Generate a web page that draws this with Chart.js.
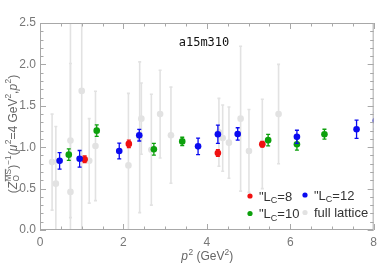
<!DOCTYPE html>
<html>
<head>
<meta charset="utf-8">
<script src="https://cdn.jsdelivr.net/npm/chart.js@4"></script>
<style>
  html, body { margin: 0; padding: 0; background: #fff; }
  #wrap { width: 382px; height: 271px; position: relative; }
</style>
</head>
<body>
<div id="wrap"><canvas id="chart" width="382" height="271"></canvas></div>
<script>
// ================= DATA =================
const xTicks = [0, 2, 4, 6, 8];
const yTicks = [0.0, 0.5, 1.0, 1.5, 2.0, 2.5];
const plotTitle = 'a15m310';

// L_C = 8 (red)
const lc8X = [1.07, 2.13, 4.265, 5.33];
const lc8Y = [0.855, 1.04, 0.93, 1.035];
const lc8Err = [0.04, 0.045, 0.04, 0.035];

// L_C = 10 (green)
const lc10X = [0.69, 1.36, 2.73, 3.41, 5.47, 6.16, 6.82];
const lc10Y = [0.91, 1.20, 0.975, 1.07, 1.085, 1.035, 1.157];
const lc10Err = [0.07, 0.07, 0.07, 0.05, 0.07, 0.07, 0.06];

// L_C = 12 (blue)
const lc12X = [0.47, 0.95, 1.90, 2.38, 3.79, 4.265, 4.74, 6.16, 7.59, 8.05];
const lc12Y = [0.835, 0.86, 0.955, 1.145, 1.01, 1.157, 1.16, 1.125, 1.217, 1.32];
const lc12Err = [0.1, 0.1, 0.095, 0.07, 0.1, 0.11, 0.075, 0.08, 0.11, 0.1];

// full lattice (light gray)
const fullX = [0.29, 0.38, 0.73, 0.73, 1.00, 1.18, 1.33, 2.12, 2.39, 2.43, 2.67, 2.88, 3.14, 4.29, 4.38, 4.53, 4.81, 5.01, 5.33, 5.72];
const fullY = [0.82, 0.56, 1.08, 0.46, 1.68, 0.835, 1.015, 0.78, 1.12, 1.345, 0.97, 1.40, 1.145, 1.18, 1.11, 1.055, 1.345, 0.955, 1.04, 1.40];
const fullErr = [0.58, 0.69, 0.93, 2.2, 1.9, 0.51, 0.66, 0.87, 0.91, 0.43, 0.67, 0.53, 0.58, 0.41, 0.40, 0.43, 0.875, 0.5, 0.54, 0.60];

// legend labels: [prefix, subscript, suffix]
const legendLabels = [
    ['"L', 'C', '=8'],
    ['"L', 'C', '=12'],
    ['"L', 'C', '=10'],
    ['full lattice', '', '']
];

const RED = '#f01010';
const GREEN = '#0ca00c';
const BLUE = '#0a0af0';
const GRAY = '#e2e2e2';
const FONT = '"Liberation Sans", Arial, sans-serif';

function toPoints(xs, ys) {
    return xs.map((x, i) => ({ x: x, y: ys[i] }));
}

function series(label, xs, ys, errs, color, order, capW, lw) {
    return {
        label: label,
        data: toPoints(xs, ys),
        errors: errs,
        capW: capW,
        errWidth: lw,
        backgroundColor: color,
        borderColor: color,
        pointRadius: 3.3,
        pointBorderWidth: 0,
        pointHoverRadius: 3.3,
        order: order
    };
}

// ================= RICH TEXT (sub / superscripts) =================
function setFont(ctx, size, italic) {
    ctx.font = (italic ? 'italic ' : '') + size + 'px ' + FONT;
}

function partWidth(ctx, p, size) {
    const small = size * 0.7;
    let w = 0, ws = 0;
    if (p.t) { setFont(ctx, size, p.it); w = ctx.measureText(p.t).width; }
    if (p.sup) { setFont(ctx, small, false); ws = ctx.measureText(p.sup).width; }
    if (p.sub) { setFont(ctx, small, false); ws = Math.max(ws, ctx.measureText(p.sub).width); }
    return w + ws + (p.sup || p.sub ? 0.5 : 0);
}

function drawRich(ctx, parts, cx, baseline, size) {
    const small = size * 0.7;
    let total = 0;
    parts.forEach(p => { total += partWidth(ctx, p, size); });
    let x = cx - total / 2;
    ctx.textAlign = 'left';
    ctx.textBaseline = 'alphabetic';
    parts.forEach(p => {
        if (p.t) {
            setFont(ctx, size, p.it);
            ctx.fillText(p.t, x, baseline);
            x += ctx.measureText(p.t).width + (p.it ? 0.5 : 0);
        }
        let ws = 0;
        setFont(ctx, small, false);
        if (p.sup) {
            const yy = baseline - size * 0.42;
            ctx.fillText(p.sup, x, yy);
            const w = ctx.measureText(p.sup).width;
            if (p.over) {
                ctx.fillRect(x, yy - small * 0.78, w, 0.8);
            }
            ws = w;
        }
        if (p.sub) {
            ctx.fillText(p.sub, x, baseline + size * 0.22);
            ws = Math.max(ws, ctx.measureText(p.sub).width);
        }
        x += ws;
    });
}

// ================= PLUGIN: ERROR BARS =================
const errorBars = {
    id: 'errorBars',
    beforeDatasetDraw(chart, args) {
        const ds = chart.data.datasets[args.index];
        if (!ds.errors) return;
        const ctx = chart.ctx;
        const area = chart.chartArea;
        const xs = chart.scales.x;
        const ys = chart.scales.y;

        ctx.save();
        ctx.beginPath();
        ctx.rect(area.left, area.top, area.right - area.left, area.bottom - area.top);
        ctx.clip();
        ctx.strokeStyle = ds.borderColor;
        ctx.lineWidth = ds.errWidth;

        ds.data.forEach((pt, i) => {
            const px = xs.getPixelForValue(pt.x);
            const top = ys.getPixelForValue(pt.y + ds.errors[i]);
            const bot = ys.getPixelForValue(pt.y - ds.errors[i]);
            ctx.beginPath();
            ctx.moveTo(px, top);
            ctx.lineTo(px, bot);
            ctx.moveTo(px - ds.capW, top);
            ctx.lineTo(px + ds.capW, top);
            ctx.moveTo(px - ds.capW, bot);
            ctx.lineTo(px + ds.capW, bot);
            ctx.stroke();
        });
        ctx.restore();
    }
};

// ================= PLUGIN: FRAME, TITLES, LEGEND =================
const frameAndText = {
    id: 'frameAndText',
    afterDraw(chart) {
        const ctx = chart.ctx;
        const a = chart.chartArea;
        const xs = chart.scales.x;
        const ys = chart.scales.y;

        ctx.save();
        ctx.strokeStyle = '#a8a8a8';
        ctx.lineWidth = 1;
        ctx.strokeRect(a.left + 0.5, a.top + 0.5, a.right - a.left - 1, a.bottom - a.top - 1);

        // inward frame ticks on all four sides
        ctx.beginPath();
        for (let k = 0; k <= 16; k++) {
            const v = k * 0.5;
            const px = Math.round(xs.getPixelForValue(v)) + 0.5;
            const len = (k % 4 === 0) ? 6 : 3.5;
            ctx.moveTo(px, a.bottom); ctx.lineTo(px, a.bottom - len);
            ctx.moveTo(px, a.top); ctx.lineTo(px, a.top + len);
        }
        for (let k = 0; k <= 25; k++) {
            const v = k * 0.1;
            const py = Math.round(ys.getPixelForValue(v)) + 0.5;
            const len = (k % 5 === 0) ? 6 : 3.5;
            ctx.moveTo(a.left, py); ctx.lineTo(a.left + len, py);
            ctx.moveTo(a.right, py); ctx.lineTo(a.right - len, py);
        }
        ctx.stroke();

        // plot label
        ctx.fillStyle = '#111';
        ctx.font = '12px "DejaVu Sans Mono", monospace';
        ctx.textAlign = 'center';
        ctx.textBaseline = 'middle';
        ctx.fillText(plotTitle, 204, 43);

        // axis titles
        ctx.fillStyle = '#666';
        drawRich(ctx, [
            { t: 'p', it: true, sup: '2' },
            { t: ' (GeV', sup: '2' },
            { t: ')' }
        ], 207.5, 260, 12);

        ctx.save();
        ctx.translate(16.5, 133.5);
        ctx.rotate(-Math.PI / 2);
        drawRich(ctx, [
            { t: '(' },
            { t: 'Z', it: true, sub: 'O', sup: 'MS', over: true },
            { t: ')', sup: '\u22121' },
            { t: '(' },
            { t: '\u03bc', it: true, sup: '2' },
            { t: '=4 GeV', sup: '2' },
            { t: ',' },
            { t: 'p', it: true, sup: '2' },
            { t: ')' }
        ], 0, 0, 12);
        ctx.restore();

        // legend
        const colors = [RED, BLUE, GREEN, GRAY];
        const spots = [[250, 196], [305, 195], [250, 213.5], [305, 212.5]];
        legendLabels.forEach((lab, i) => {
            const [dx, dy] = spots[i];
            ctx.fillStyle = colors[i];
            ctx.beginPath();
            ctx.arc(dx, dy, 2.6, 0, Math.PI * 2);
            ctx.fill();

            ctx.fillStyle = '#333';
            ctx.textAlign = 'left';
            ctx.textBaseline = 'alphabetic';
            let tx = dx + 9;
            const base = dy + 4.5;
            setFont(ctx, 13, false);
            ctx.fillText(lab[0], tx, base);
            tx += ctx.measureText(lab[0]).width;
            if (lab[1]) {
                setFont(ctx, 9, false);
                ctx.fillText(lab[1], tx, base + 2.5);
                tx += ctx.measureText(lab[1]).width;
            }
            if (lab[2]) {
                setFont(ctx, 13, false);
                ctx.fillText(lab[2], tx, base);
            }
        });
        ctx.restore();
    }
};

// ================= CHART =================
new Chart(document.getElementById('chart'), {
    type: 'scatter',
    data: {
        datasets: [
            series('"LC=12', lc12X, lc12Y, lc12Err, BLUE, 1, 2, 1.3),
            series('"LC=10', lc10X, lc10Y, lc10Err, GREEN, 2, 2, 1.3),
            series('"LC=8', lc8X, lc8Y, lc8Err, RED, 3, 2, 1.3),
            series('full lattice', fullX, fullY, fullErr, GRAY, 4, 1.5, 1.6)
        ]
    },
    options: {
        responsive: false,
        animation: false,
        layout: { padding: { top: 23, right: 7, left: 0, bottom: 0 } },
        plugins: {
            legend: { display: false },
            tooltip: { enabled: false }
        },
        scales: {
            x: {
                type: 'linear',
                min: 0,
                max: 8,
                afterFit: s => { s.height = 41; },
                afterBuildTicks: s => { s.ticks = xTicks.map(v => ({ value: v })); },
                grid: { display: false, drawTicks: false },
                border: { display: false },
                ticks: {
                    padding: 5,
                    color: '#777',
                    font: { family: FONT, size: 12 },
                    callback: v => String(v)
                }
            },
            y: {
                type: 'linear',
                min: 0,
                max: 2.5,
                afterFit: s => { s.width = 40; },
                afterBuildTicks: s => { s.ticks = yTicks.map(v => ({ value: v })); },
                grid: { display: false, drawTicks: false },
                border: { display: false },
                ticks: {
                    padding: 4,
                    color: '#777',
                    font: { family: FONT, size: 12 },
                    callback: v => Number(v).toFixed(1)
                }
            }
        }
    },
    plugins: [errorBars, frameAndText]
});
</script>
</body>
</html>
